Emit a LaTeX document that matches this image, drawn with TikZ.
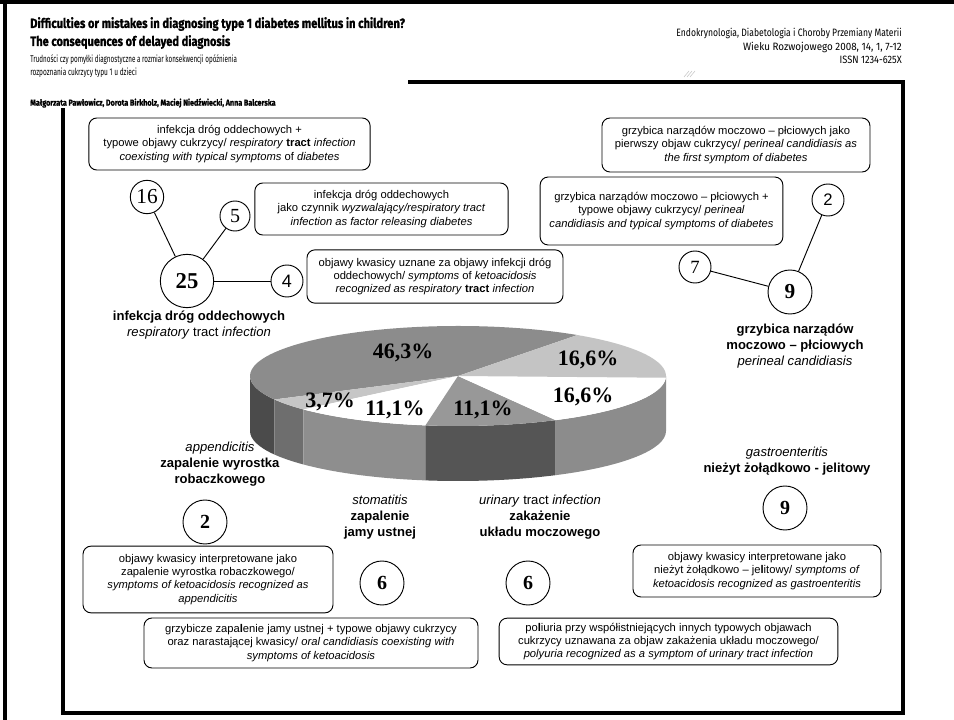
\documentclass[tikz,border=0pt]{standalone}
\usepackage{fontspec}
\usepackage{graphicx}
\setmainfont{Liberation Sans}
\newfontfamily\serif{Liberation Serif}
\newfontfamily\hd{Fira Sans}[BoldFeatures={FakeBold=1.2}]
% squeeze a line horizontally to a given width
\newcommand\hfit[2]{\resizebox{#1}{\height}{#2}}
% pie pieces: top face and front rim of the slice between two angles
\newcommand\pietop[3]{\fill[#3] (0,0) -- (#1:156pt and 37.5pt) arc[start angle=#1,end angle=#2,x radius=156pt,y radius=37.5pt] -- cycle;}
\newcommand\pieside[3]{\fill[#3] (#1:156pt and 37.5pt) arc[start angle=#1,end angle=#2,x radius=156pt,y radius=37.5pt] -- ++(0,-41.25pt) arc[start angle=#2,end angle=#1,x radius=156pt,y radius=37.5pt] -- cycle;}
\definecolor{pA}{HTML}{8C8C8C}
\definecolor{pAs}{HTML}{4B4B4B}
\definecolor{pB}{HTML}{C6C6C6}
\definecolor{pBs}{HTML}{6E6E6E}
\definecolor{pCs}{HTML}{8E8E8E}
\definecolor{pD}{HTML}{989898}
\definecolor{pDs}{HTML}{555555}
\definecolor{pEs}{HTML}{8C8C8C}
\definecolor{pF}{HTML}{C4C4C4}
\begin{document}
\begin{tikzpicture}[x=0.75pt,y=-0.75pt,
  infobox/.style={draw, rounded corners=6pt, line width=0.7pt, align=center, inner sep=0pt,
    font=\fontsize{8.4}{9.9}\selectfont},
  count/.style={circle, draw, line width=0.7pt, inner sep=0pt},
  lab/.style={align=center, inner sep=0pt, font=\fontsize{9.8}{11.9}\selectfont},
  pct/.style={inner sep=0pt, font=\serif\bfseries\fontsize{16.5}{16.5}\selectfont},
  frame/.style={line width=3pt},
  link/.style={line width=0.7pt}]
\useasboundingbox (0,0) rectangle (954,720);
\fill[white] (0,0) rectangle (954,720);

% page borders and frame
\draw[frame] (0,2) -- (954,2);
\draw[frame] (5,0) -- (5,720);
\draw[frame] (408,82) -- (903,82) -- (903,713) -- (63,713) -- (63,108);

% header, left
\node[anchor=west, inner sep=0pt] (title1) at (30,24)
  {\hfit{281pt}{\hd\bfseries\fontsize{10}{11}\selectfont Difficulties or mistakes in diagnosing type 1 diabetes mellitus in children?}};
\node[anchor=west, inner sep=0pt] (title2) at (30,42)
  {\hfit{150pt}{\hd\bfseries\fontsize{10}{11}\selectfont The consequences of delayed diagnosis}};
\node[anchor=west, inner sep=0pt] (sub1) at (30,60)
  {\hfit{155pt}{\hd\fontsize{7.3}{8}\selectfont Trudności czy pomyłki diagnostyczne a rozmiar konsekwencji opóźnienia}};
\node[anchor=west, inner sep=0pt] (sub2) at (30,73)
  {\hfit{80pt}{\hd\fontsize{7.3}{8}\selectfont rozpoznania cukrzycy typu 1 u dzieci}};
\node[anchor=west, inner sep=0pt] (authors) at (30,103)
  {\hfit{184pt}{\hd\bfseries\fontsize{6.5}{7}\selectfont Małgorzata Pawłowicz, Dorota Birkholz, Maciej Niedźwiecki, Anna Balcerska}};

% header, right
\node[anchor=east, inner sep=0pt] (jour1) at (902,33)
  {\hfit{169pt}{\hd\fontsize{8}{9}\selectfont Endokrynologia, Diabetologia i Choroby Przemiany Materii}};
\node[anchor=east, inner sep=0pt] (jour2) at (902,47)
  {\hfit{119pt}{\hd\fontsize{8}{9}\selectfont Wieku Rozwojowego 2008, 14, 1, 7-12}};
\node[anchor=east, inner sep=0pt] (issn) at (902,60)
  {\hfit{46.5pt}{\hd\fontsize{8}{9}\selectfont ISSN 1234-625X}};
\draw[gray!45, line width=0.4pt] (684,77) -- (689,71) (687,77) -- (692,71) (690,77) -- (695,71);

% pie chart
\begin{scope}[shift={(458,376)}, x=1pt, y=1pt]
  \pieside{180}{208}{pAs}
  \pieside{208}{222}{pBs}
  \pieside{222}{261}{pCs}
  \pieside{261}{298}{pDs}
  \pieside{298}{360}{pEs}
  \pietop{55}{208}{pA}
  \pietop{208}{222}{pB}
  \pietop{222}{261}{white}
  \pietop{261}{298}{pD}
  \pietop{298}{358}{white}
  \pietop{358}{415}{pF}
\end{scope}
\node[pct] (p463) at (403,353) {46,3\%};
\node[pct] (p166a) at (588,360) {16,6\%};
\node[pct] (p166b) at (583,397) {16,6\%};
\node[pct] (p37) at (330,402) {3,7\%};
\node[pct] (p111a) at (395,410) {11,1\%};
\node[pct] (p111b) at (483,410) {11,1\%};

% respiratory tract infection
\node[infobox, minimum width=211pt, minimum height=39pt] (b1) at (229.5,144)
  {infekcja dróg oddechowych +\\ typowe objawy cukrzycy/ \textit{respiratory} \textbf{tract} \textit{infection}\\
   \textit{coexisting with typical symptoms} of \textit{diabetes}};
\node[infobox, minimum width=190pt, minimum height=39pt] (b2) at (381.5,209)
  {infekcja dróg oddechowych\\ jako czynnik \textit{wyzwalający/respiratory tract}\\
   \textit{infection as factor releasing diabetes}};
\node[infobox, minimum width=192pt, minimum height=40pt] (b3) at (435,276.5)
  {objawy kwasicy uznane za objawy infekcji dróg\\ oddechowych/ \textit{symptoms} of \textit{ketoacidosis}\\
   \textit{recognized as respiratory} \textbf{tract} \textit{infection}};
\node[count, minimum size=25pt, font=\serif\fontsize{16}{16}\selectfont] (n16) at (147,197) {16};
\node[count, minimum size=22.5pt, font=\serif\fontsize{15}{15}\selectfont] (n5) at (235,216) {5};
\node[count, minimum size=40pt, font=\serif\bfseries\fontsize{17}{17}\selectfont] (n25) at (187,281) {25};
\node[count, minimum size=24pt, font=\fontsize{13.5}{13.5}\selectfont] (n4) at (287,281) {4};
\draw[link] (n16) -- (n25);
\draw[link] (n5) -- (n25);
\draw[link] (n25) -- (n4);
\node[lab] (l25) at (199,325)
  {\textbf{infekcja dróg oddechowych}\\ \textit{respiratory} tract \textit{infection}};

% perineal candidiasis
\node[infobox, minimum width=201pt, minimum height=40.5pt] (b4) at (736,145)
  {grzybica narządów moczowo – płciowych jako\\ pierwszy objaw cukrzycy/ \textit{perineal candidiasis as}\\
   \textit{the first symptom of diabetes}};
\node[infobox, minimum width=182pt, minimum height=51pt] (b5) at (661.5,211)
  {grzybica narządów moczowo – płciowych +\\ typowe objawy cukrzycy/ \textit{perineal}\\
   \textit{candidiasis and typical symptoms of diabetes}};
\node[count, minimum size=24pt, font=\fontsize{12.5}{12.5}\selectfont] (n2t) at (828,200) {2};
\node[count, minimum size=24pt, font=\serif\fontsize{14}{14}\selectfont] (n7) at (695,267) {7};
\node[count, minimum size=33pt, font=\serif\bfseries\fontsize{16}{16}\selectfont] (n9t) at (790,292) {9};
\draw[link] (n2t) -- (n9t);
\draw[link] (n7) -- (n9t);
\node[lab] (l9) at (795,346)
  {\textbf{grzybica narządów}\\ \textbf{moczowo – płciowych}\\ \textit{perineal candidiasis}};

% appendicitis
\node[lab] (lapp) at (220,464)
  {\textit{appendicitis}\\ \textbf{zapalenie wyrostka}\\ \textbf{robaczkowego}};
\node[count, minimum size=33pt, font=\serif\bfseries\fontsize{15}{15}\selectfont] (n2b) at (205,522) {2};
\node[infobox, minimum width=187.5pt, minimum height=50pt] (b6) at (208,579.5)
  {objawy kwasicy interpretowane jako\\ zapalenie wyrostka robaczkowego/\\
   \textit{symptoms of ketoacidosis recognized as}\\ \textit{appendicitis}};

% stomatitis
\node[lab] (lstom) at (380,517)
  {\textit{stomatitis}\\ \textbf{zapalenie}\\ \textbf{jamy ustnej}};
\node[count, minimum size=33pt, font=\serif\bfseries\fontsize{15}{15}\selectfont] (n6a) at (382,583) {6};
\node[infobox, minimum width=250.5pt, minimum height=37.5pt] (b8) at (311,643)
  {grzybicze zapa\textbf{l}enie jamy ustnej + typowe objawy cukrzycy\\
   oraz narastającej kwasicy/ \textit{oral candidiasis coexisting with}\\ \textit{symptoms of ketoacidosis}};

% urinary tract infection
\node[lab] (luri) at (540,517)
  {\textit{urinary} tract \textit{infection}\\ \textbf{zakażenie}\\ \textbf{układu moczowego}};
\node[count, minimum size=33pt, font=\serif\bfseries\fontsize{15}{15}\selectfont] (n6b) at (528,583) {6};
\node[infobox, minimum width=254pt, minimum height=35pt] (b9) at (668.5,641.5)
  {po\textbf{l}iuria przy współistniejących innych typowych objawach\\
   cukrzycy uznawana za objaw zakażenia układu moczowego/\\
   \textit{polyuria recognized as a symptom of urinary tract infection}};

% gastroenteritis
\node[lab] (lgas) at (787,461)
  {\textit{gastroenteritis}\\ \textbf{nieżyt żołądkowo - jelitowy}};
\node[count, minimum size=33pt, font=\serif\bfseries\fontsize{15}{15}\selectfont] (n9b) at (785,508) {9};
\node[infobox, minimum width=186pt, minimum height=39pt] (b7) at (757,571)
  {objawy kwasicy interpretowane jako\\ nieżyt żołądkowo – je\textbf{l}itowy/ \textit{symptoms of}\\
   \textit{ketoacidosis recognized as gastroenteritis}};
\end{tikzpicture}
\end{document}
